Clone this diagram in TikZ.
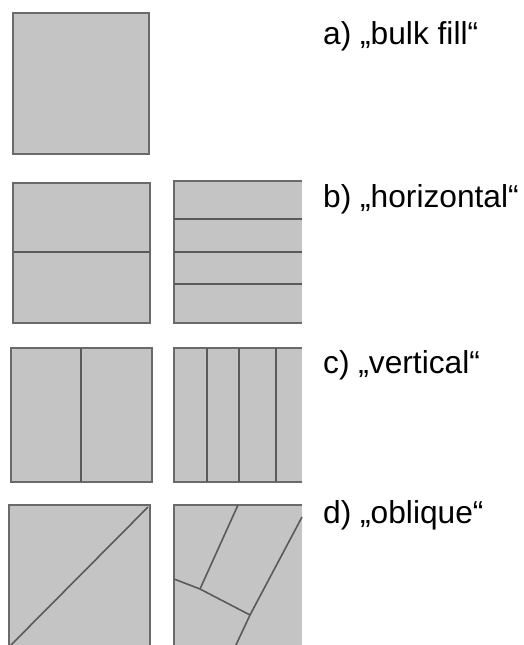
\documentclass[tikz,border=0pt]{standalone}
\usepackage{fontspec}
\setmainfont{Liberation Sans}
\definecolor{fillgray}{HTML}{C4C4C4}
\definecolor{edgegray}{HTML}{6A6A6A}
\definecolor{seamgray}{HTML}{5A5A5A}
\begin{document}
\begin{tikzpicture}[x=1pt,y=-1pt,
  block/.style={fill=fillgray,draw=edgegray,line width=2.2pt},
  openblock/.style={draw=edgegray,line width=2.2pt},
  seam/.style={draw=seamgray,line width=1.6pt},
  lbl/.style={anchor=base west,inner sep=0pt,font=\fontsize{31.7}{36}\selectfont}]
\useasboundingbox (0,0) rectangle (523,645);
\begin{scope}
\clip (0,0) rectangle (523,645);
% a) bulk fill
\draw[block] (13,13) rectangle (149,154);
% b) horizontal
\draw[block] (13,183) rectangle (150,323);
\draw[seam] (13,252) -- (150,252);
\fill[fillgray] (174,181) rectangle (302,323);
\draw[openblock] (302,181) -- (174,181) -- (174,323) -- (302,323);
\foreach \yy in {219,252,284} \draw[seam] (174,\yy) -- (302,\yy);
% c) vertical
\draw[block] (11,348) rectangle (152,482);
\draw[seam] (81,348) -- (81,482);
\fill[fillgray] (174,348) rectangle (302,482);
\draw[openblock] (302,348) -- (174,348) -- (174,482) -- (302,482);
\foreach \xx in {207,239,276} \draw[seam] (\xx,348) -- (\xx,482);
% d) oblique
\draw[block] (9,505) rectangle (150,647);
\draw[seam] (11,645) -- (148,507);
\fill[fillgray] (174,505) rectangle (302,647);
\draw[openblock] (302,505) -- (174,505) -- (174,647);
\coordinate (p1) at (238,505);
\coordinate (p2) at (200,589);
\coordinate (p3) at (174,579);
\coordinate (p4) at (250,615);
\coordinate (p5) at (302,517);
\coordinate (p6) at (235,647);
\draw[seam] (p1) -- (p2);
\draw[seam] (p3) -- (p2) -- (p4);
\draw[seam] (p5) -- (p4) -- (p6);
\end{scope}
\node[lbl] (la) at (323,44) {a) „bulk fill“};
\node[lbl] (lb) at (323,207) {b) „horizontal“};
\node[lbl] (lc) at (323,373) {c) „vertical“};
\node[lbl] (ld) at (323,523) {d) „oblique“};
\end{tikzpicture}
\end{document}
